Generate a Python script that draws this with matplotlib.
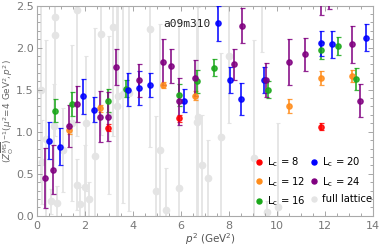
import numpy as np
import matplotlib
matplotlib.use("Agg")
from matplotlib import pyplot as plt
from matplotlib.lines import Line2D
from matplotlib.ticker import MultipleLocator

# --- data ---
lc8_x = [2.96, 5.91, 11.82]
lc8_y = [1.05, 1.16, 1.06]
lc8_e = [0.04, 0.04, 0.04]

lc12_x = [1.32, 2.62, 5.25, 6.56, 10.50, 11.82, 13.11]
lc12_y = [1.02, 1.28, 1.556, 1.43, 1.306, 1.64, 1.66]
lc12_e = [0.05, 0.04, 0.04, 0.05, 0.08, 0.085, 0.07]

lc16_x = [0.74, 1.47, 2.96, 3.70, 5.91, 6.65, 7.38, 9.60, 11.82, 12.55, 13.29]
lc16_y = [1.25, 1.33, 1.37, 1.51, 1.44, 1.60, 1.76, 1.50, 1.97, 2.02, 1.63]
lc16_e = [0.14, 0.14, 0.14, 0.10, 0.13, 0.14, 0.10, 0.10, 0.10, 0.11, 0.13]

lc20_x = [0.48, 0.95, 1.90, 2.38, 3.78, 4.26, 4.72, 6.14, 7.55, 8.03, 8.51, 9.44, 11.82, 12.29, 13.69]
lc20_y = [0.89, 0.82, 1.42, 1.26, 1.50, 1.52, 1.556, 1.37, 2.29, 1.615, 1.39, 1.615, 2.05, 2.04, 2.12]
lc20_e = [0.22, 0.22, 0.21, 0.15, 0.20, 0.20, 0.14, 0.14, 0.21, 0.15, 0.19, 0.15, 0.15, 0.16, 0.16]

lc24_x = [0.33, 0.66, 1.32, 1.65, 2.62, 2.96, 3.29, 4.26, 5.25, 5.58, 5.91, 6.57, 8.21, 8.53,
          9.52, 10.50, 11.16, 11.82, 12.14, 13.11, 13.46]
lc24_y = [0.45, 0.55, 1.07, 1.33, 1.18, 1.18, 1.77, 1.61, 1.83, 1.78, 1.36, 1.64, 1.80, 2.26,
          1.615, 1.83, 1.92, 2.62, 2.68, 2.04, 1.37]
lc24_e = [0.36, 0.29, 0.25, 0.21, 0.30, 0.29, 0.21, 0.20, 0.27, 0.20, 0.28, 0.21, 0.18, 0.21,
          0.20, 0.27, 0.20, 0.23, 0.22, 0.22, 0.20]

full_x = [0.15, 0.19, 0.36, 0.60, 0.74, 0.76, 0.70, 0.84, 1.09, 1.47, 1.68, 1.67, 1.78, 1.98,
          2.05, 2.16, 2.42, 2.67, 2.98, 3.15, 3.33, 3.39, 3.57, 3.84, 4.71, 4.95, 5.14, 5.36,
          5.92, 6.65, 6.69, 6.85, 7.10, 7.66, 7.98, 9.04, 9.35, 9.56, 10.04]
full_y = [1.50, 0.64, 0.91, 0.17, 2.36, 2.15, 1.07, 0.155, 0.78, 1.10, 2.45, 0.37, 0.14, 0.34,
          1.10, 0.20, 0.71, 2.16, 1.20, 2.25, 1.30, 1.42, 1.45, 1.46, 2.22, 0.29, 0.78, 0.07,
          0.33, 1.11, 1.18, 0.60, 0.45, 0.94, 1.90, 0.69, 2.75, 0.05, 0.10]
full_e = [1.10, 0.50, 1.18, 0.15, 1.30, 1.20, 0.50, 0.20, 0.50, 0.93, 1.50, 0.30, 0.20, 0.50,
          0.80, 0.20, 1.53, 1.20, 0.94, 1.30, 1.40, 1.50, 1.30, 1.40, 1.40, 0.90, 1.50, 0.50,
          2.00, 1.20, 1.30, 0.60, 0.45, 1.00, 0.80, 1.40, 0.80, 0.12, 1.00]

labels = ["L$_\\mathrm{c}$ = 8", "L$_\\mathrm{c}$ = 12", "L$_\\mathrm{c}$ = 16",
          "L$_\\mathrm{c}$ = 20", "L$_\\mathrm{c}$ = 24", "full lattice"]
colors = ["#ff0000", "#ff8c1a", "#1aa81a", "#0000ff", "#800080", "#e4e4e4"]

series = [(lc8_x, lc8_y, lc8_e), (lc12_x, lc12_y, lc12_e), (lc16_x, lc16_y, lc16_e),
          (lc20_x, lc20_y, lc20_e), (lc24_x, lc24_y, lc24_e)]

fig = plt.figure(figsize=(3.82, 2.46), dpi=100)
ax = fig.add_axes([0.097, 0.123, 0.880, 0.854])

ax.errorbar(full_x, full_y, yerr=full_e, fmt="o", color=colors[5], ms=4.5,
            elinewidth=1.3, capsize=1.5, capthick=0.8, zorder=1)

for (sx, sy, se), c in zip(series, colors[:5]):
    ax.errorbar(sx, sy, yerr=se, fmt="o", color=c, ecolor=c, ms=3.8,
                elinewidth=1.3, capsize=1.8, capthick=0.9, alpha=0.85, zorder=3)

ax.text(6.25, 2.28, "a09m310", fontsize=8, family="DejaVu Sans Mono",
        ha="center", va="center", color="#222222")

ax.set_xlim(0, 14)
ax.set_ylim(0, 2.5)
ax.xaxis.set_major_locator(MultipleLocator(2))
ax.xaxis.set_minor_locator(MultipleLocator(0.5))
ax.yaxis.set_major_locator(MultipleLocator(0.5))
ax.yaxis.set_minor_locator(MultipleLocator(0.1))
ax.tick_params(which="both", direction="in", top=True, right=True, colors="#999999",
               labelcolor="#777777", labelsize=8, width=0.6)
ax.tick_params(which="major", length=3.5)
ax.tick_params(which="minor", length=2)
ax.tick_params(axis="y", which="major", pad=2.5)
ax.xaxis.set_major_formatter(matplotlib.ticker.FormatStrFormatter("%d"))
ax.yaxis.set_major_formatter(matplotlib.ticker.FormatStrFormatter("%.1f"))
for s in ax.spines.values():
    s.set_color("#aaaaaa")
    s.set_linewidth(0.8)

ax.set_xlabel("$p^2$ (GeV$^2$)", fontsize=7.5, color="#555555")
ax.xaxis.set_label_coords(0.515, -0.075)
ax.set_ylabel(r"$(Z_{\rm O}^{\overline{\rm MS}})^{-1}(\mu^2\!=\!4\ \mathrm{GeV}^2\!,p^2)$",
              fontsize=6.4, color="#666666")
ax.yaxis.set_label_coords(-0.063, 0.5)

handles = [Line2D([], [], marker="o", ls="none", color=c, ms=3.6) for c in colors]
ax.legend(handles, labels, ncol=2, loc="lower right", bbox_to_anchor=(1.02, 0.0),
          frameon=False, fontsize=7.2, handlelength=0.6, handletextpad=0.5,
          columnspacing=0.55, labelspacing=0.58, borderaxespad=0.35)

fig.savefig("out.png", dpi=100)
